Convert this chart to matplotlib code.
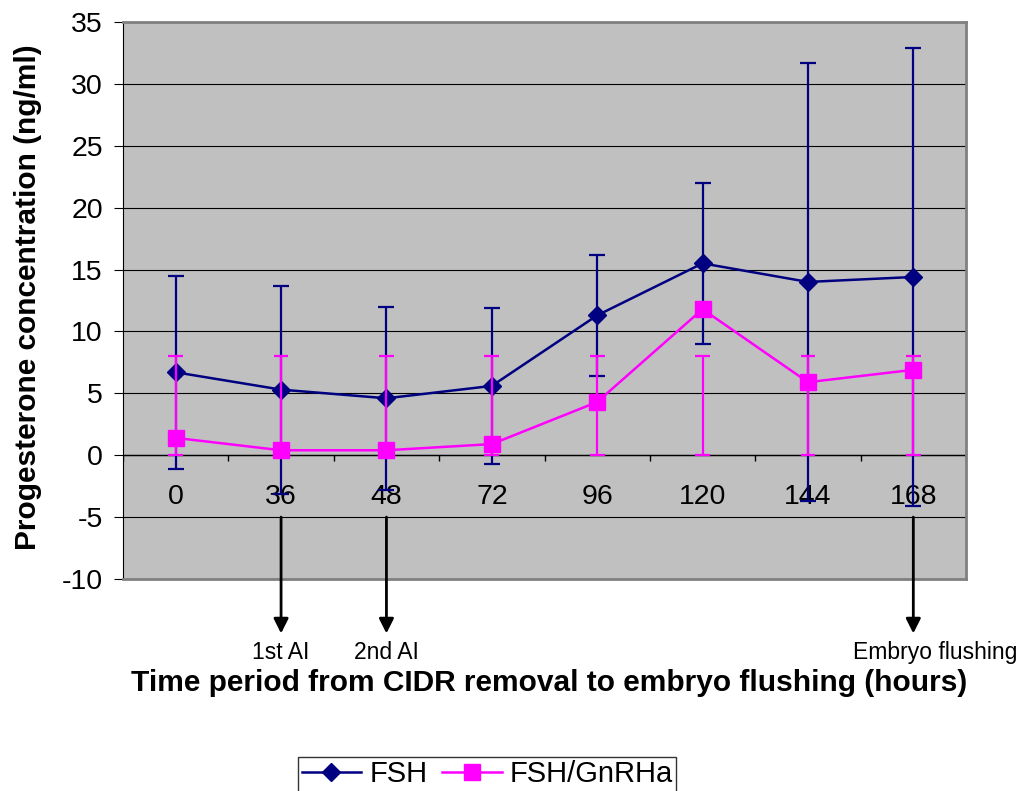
import matplotlib

matplotlib.use("Agg")
import matplotlib.pyplot as plt
import numpy as np

plt.rcParams["font.family"] = ["Liberation Sans", "DejaVu Sans"]
plt.rcParams["axes.unicode_minus"] = False

hours = ["0", "36", "48", "72", "96", "120", "144", "168"]
fsh_mean = [6.7, 5.3, 4.6, 5.6, 11.3, 15.5, 14.0, 14.4]
fsh_err = [7.8, 8.4, 7.4, 6.3, 4.9, 6.5, 17.7, 18.5]
gnrh_mean = [1.4, 0.4, 0.4, 0.9, 4.3, 11.8, 5.9, 6.9]
gnrh_lo = [0, 0, 0, 0, 0, 0, 0, 0]
gnrh_hi = [8, 8, 8, 8, 8, 8, 8, 8]
events = {"36": "1st AI", "48": "2nd AI", "168": "Embryo flushing"}

NAVY = "#000080"
MAGENTA = "#FF00FF"

fig = plt.figure(figsize=(10.27, 7.91), dpi=100)
ax = fig.add_axes([123 / 1027, 1 - 579 / 791, 843 / 1027, 557 / 791])
ax.set_facecolor("#C0C0C0")
x = np.arange(len(hours))

ax.set_xlim(-0.5, len(hours) - 0.5)
ax.set_ylim(-10, 35)
ax.set_yticks(np.arange(-10, 36, 5))
ax.yaxis.grid(True, color="black", lw=0.8)
ax.set_axisbelow(True)
ax.tick_params(axis="y", labelsize=20.5, length=6.5, direction="out", pad=8)
ax.set_xticks([])
for side in ["top", "right", "bottom"]:
    ax.spines[side].set_color("#808080")
    ax.spines[side].set_linewidth(2)
ax.spines["left"].set_color("black")

# category axis crossing at zero
ax.axhline(0, color="black", lw=1, zorder=1)
ax.vlines(np.arange(len(hours) + 1) - 0.5, -0.45, 0, color="black", lw=1, zorder=1)
for xi, lab in zip(x, hours):
    ax.text(xi, -3.4, lab, ha="center", va="center", fontsize=20.5, zorder=1)

ax.errorbar(x, fsh_mean, yerr=fsh_err, fmt="none", ecolor=NAVY, elinewidth=1.6,
            capsize=5.5, capthick=1.6, zorder=2)
ax.plot(x, fsh_mean, color=NAVY, lw=1.8, marker="D", ms=9.5, label="FSH", zorder=3)

gl = np.array(gnrh_lo)
gh = np.array(gnrh_hi)
ax.vlines(x, gl, gh, color=MAGENTA, lw=1.6, zorder=4)
ax.hlines(np.concatenate([gl, gh]), np.tile(x, 2) - 0.07, np.tile(x, 2) + 0.07,
          color=MAGENTA, lw=1.6, zorder=4)
ax.plot(x, gnrh_mean, color=MAGENTA, lw=1.8, marker="s", ms=11, label="FSH/GnRHa", zorder=5)

for xi, lab in zip(x, hours):
    if lab in events:
        ax.annotate("", xy=(xi, -14.4), xytext=(xi, -5), annotation_clip=False,
                    arrowprops=dict(arrowstyle="-|>", color="black", lw=2,
                                    mutation_scale=22, shrinkA=0, shrinkB=0))
        # last label sits a bit right of its arrow, as in the original
        dx = 0.21 if xi == len(hours) - 1 else 0.0
        ax.text(xi + dx, -15.9, events[lab], ha="center", va="center", fontsize=16.5,
                clip_on=False)

fig.text(28 / 1027, 1 - 297 / 791, "Progesterone concentration (ng/ml)", rotation=90,
         ha="center", va="center", fontsize=21.5, fontweight="bold")
fig.text(549 / 1027, 1 - 683 / 791, "Time period from CIDR removal to embryo flushing (hours)",
         ha="center", va="center", fontsize=21.5, fontweight="bold")

leg = fig.legend(loc="upper left", bbox_to_anchor=(298 / 1027, 1 - 757 / 791), ncol=2,
                 fontsize=21, frameon=True, fancybox=False, edgecolor="black",
                 handlelength=2.05, handletextpad=0.27, columnspacing=0.5,
                 borderpad=0.12, borderaxespad=0)
leg.get_frame().set_linewidth(1)

fig.savefig("out.png", dpi=100)
